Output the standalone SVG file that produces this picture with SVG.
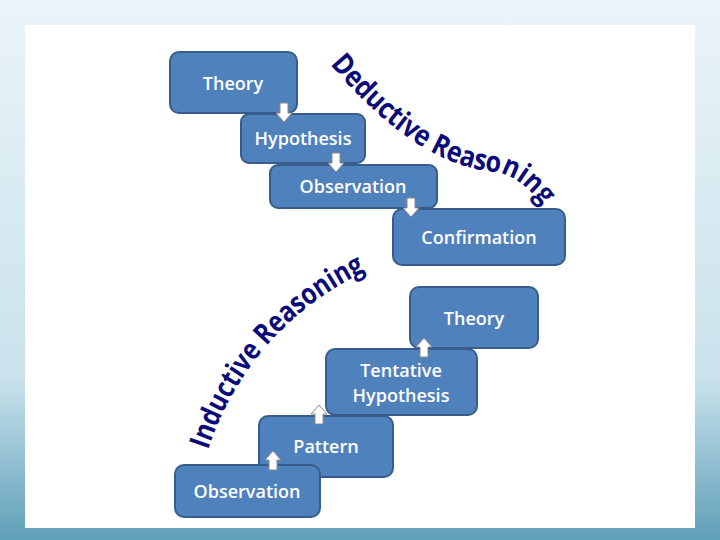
<svg xmlns="http://www.w3.org/2000/svg" width="720" height="540" viewBox="0 0 720 540">
<defs>
<linearGradient id="bg" x1="0" y1="0" x2="0" y2="1"><stop offset="0" stop-color="#eaf4f8"/><stop offset="0.7" stop-color="#c9e2ec"/><stop offset="1" stop-color="#5f9fb8"/></linearGradient>
<path id="dp" d="M 330,64 Q 415,165 495,172 Q 520,176 542,205"/>
<path id="ip" d="M 208,450 Q 250,325 372,268"/>
</defs>
<style>
.box{fill:#4f81bd;stroke:#385d8a;stroke-width:2}
.t{font-family:"Open Sans","Noto Sans",sans-serif;font-weight:600;font-size:18px;fill:#ffffff;text-anchor:middle}
.arr{fill:#ffffff;stroke:#8a8a8a;stroke-width:1}
.r{font-family:"Open Sans","Noto Sans",sans-serif;font-weight:bold;font-size:29px;fill:#0b0b7a}
</style>
<rect width="720" height="540" fill="url(#bg)"/>
<rect x="25" y="25" width="670" height="503" fill="#ffffff"/>
<g id="theory1"><rect class="box" x="170" y="52" width="127" height="61" rx="9"/><text class="t" x="233" y="90">Theory</text></g>
<g id="hypothesis"><rect class="box" x="241" y="114" width="124" height="49" rx="8"/><text class="t" x="303" y="145">Hypothesis</text></g>
<g id="observation1"><rect class="box" x="270" y="165" width="167" height="43" rx="8"/><text class="t" x="353" y="193">Observation</text></g>
<g id="confirmation"><rect class="box" x="393" y="209" width="172" height="56" rx="9"/><text class="t" x="479" y="244">Confirmation</text></g>
<g id="theory2"><rect class="box" x="410" y="287" width="128" height="61" rx="9"/><text class="t" x="474" y="325">Theory</text></g>
<g id="tentative"><rect class="box" x="326" y="349" width="151" height="66" rx="9"/><text class="t" x="401" y="377">Tentative</text><text class="t" x="401" y="402">Hypothesis</text></g>
<g id="pattern"><rect class="box" x="259" y="416" width="134" height="61" rx="9"/><text class="t" x="326" y="453">Pattern</text></g>
<g id="observation2"><rect class="box" x="175" y="465" width="145" height="52" rx="9"/><text class="t" x="247" y="498">Observation</text></g>
<g id="connectors">
<path class="arr" d="M280,103 h8 v10 h4 l-8,9 l-8,-9 h4 z"/>
<path class="arr" d="M332,153 h8 v10 h4 l-8,9 l-8,-9 h4 z"/>
<path class="arr" d="M407,198 h8 v10 h4 l-8,9 l-8,-9 h4 z"/>
<path class="arr" d="M420,357 h8 v-10 h4 l-8,-9 l-8,9 h4 z"/>
<path class="arr" d="M315,424 h8 v-10 h4 l-8,-9 l-8,9 h4 z"/>
<path class="arr" d="M269,470 h8 v-10 h4 l-8,-9 l-8,9 h4 z"/>
</g>
<text class="r"><textPath href="#dp" textLength="262" lengthAdjust="spacingAndGlyphs">Deductive Reasoning</textPath></text>
<text class="r"><textPath href="#ip" textLength="245" lengthAdjust="spacingAndGlyphs">Inductive Reasoning</textPath></text>
</svg>
